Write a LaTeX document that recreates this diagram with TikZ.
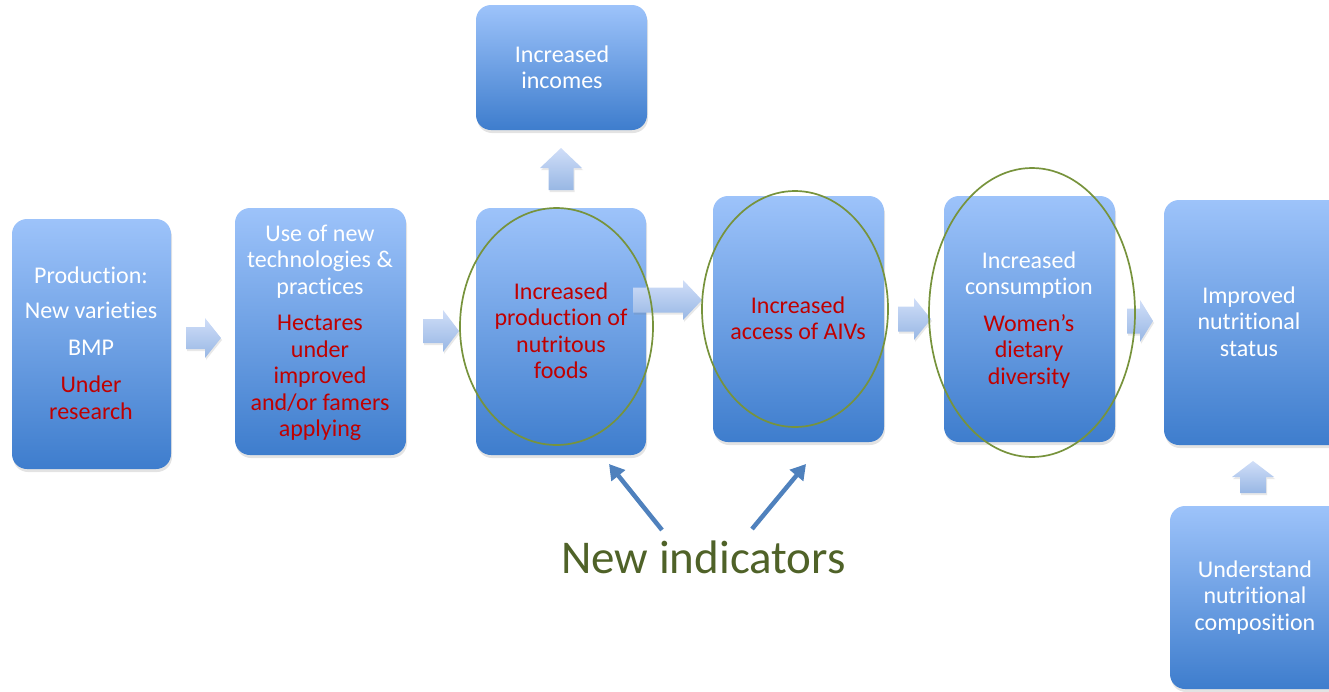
\documentclass[tikz,border=0pt]{standalone}
\usepackage{fontspec}
\setmainfont{Carlito}[Ligatures={NoCommon}]
\usetikzlibrary{arrows.meta,shadows}
\definecolor{boxtop}{RGB}{157,195,250}
\definecolor{boxbot}{RGB}{62,125,205}
\definecolor{txtred}{RGB}{192,0,0}
\definecolor{ellgreen}{RGB}{119,147,60}
\definecolor{indgreen}{RGB}{79,98,40}
\definecolor{arrblue}{RGB}{79,129,189}
\definecolor{barrtop}{RGB}{208,222,248}
\definecolor{barrbot}{RGB}{152,183,228}
\newcommand\rd[1]{\textcolor{txtred}{#1}}
\newcommand\myharr[6]{\path[barrow] (#1,#4-#5) -- (#3,#4-#5) -- (#3,#4-#6) -- (#2,#4) -- (#3,#4+#6) -- (#3,#4+#5) -- (#1,#4+#5) -- cycle;}
\newcommand\myvarr[6]{\path[barrow] (#1-#5,#4) -- (#1-#5,#3) -- (#1-#6,#3) -- (#1,#2) -- (#1+#6,#3) -- (#1+#5,#3) -- (#1+#5,#4) -- cycle;}
\begin{document}
\begin{tikzpicture}[x=1pt,y=-1pt,
  box/.style={rounded corners=15pt, top color=boxtop, bottom color=boxbot, draw=none,
    inner sep=0pt, outer sep=0pt,
    drop shadow={opacity=0.22, shadow xshift=1pt, shadow yshift=-3pt}},
  txt/.style={font=\fontsize{24}{26.5}\selectfont, text=white, inner sep=0pt, anchor=base},
  barrow/.style={top color=barrtop, bottom color=barrbot, draw=none,
    drop shadow={opacity=0.18, shadow xshift=1pt, shadow yshift=-2pt}},
  ell/.style={draw=ellgreen, line width=1.7pt},
  indarrow/.style={draw=arrblue, line width=4.5pt, -{Triangle[length=15pt,width=17pt]}}]
\useasboundingbox (0,0) rectangle (1329,691);
\clip (0,0) rectangle (1329,691);

% boxes
\node[box, minimum width=159pt, minimum height=250pt] (b1) at (91.5,344) {};
\node[box, minimum width=171pt, minimum height=247pt] (b2) at (320.5,331.5) {};
\node[box, minimum width=170pt, minimum height=247pt] (b3) at (561,331.5) {};
\node[box, minimum width=171pt, minimum height=125pt] (b0) at (561.5,67.5) {};
\node[box, minimum width=171pt, minimum height=246pt] (b4) at (798.5,319) {};
\node[box, minimum width=171pt, minimum height=246pt] (b5) at (1029.5,319) {};
\node[box, minimum width=190pt, minimum height=245pt] (b6) at (1259,322.5) {};
\node[box, minimum width=180pt, minimum height=183pt] (b7) at (1260,597.5) {};

% texts
\node[txt] (t1) at (91,283) {\begin{tabular}[t]{@{}c@{}}Production:\\[9pt] New varieties\\[10pt] BMP\\[11pt] \rd{Under}\\ \rd{research}\end{tabular}};
\node[txt] (t2) at (320,241) {\begin{tabular}[t]{@{}c@{}}Use of new\\ technologies \&\\ practices\\[10pt] \rd{Hectares}\\ \rd{under}\\ \rd{improved}\\ \rd{and/or famers}\\ \rd{applying}\end{tabular}};
\node[txt] (t3) at (561,299) {\begin{tabular}[t]{@{}c@{}}\rd{Increased}\\ \rd{production of}\\ \rd{nutritous}\\ \rd{foods}\end{tabular}};
\node[txt] (t0) at (562,62) {\begin{tabular}[t]{@{}c@{}}Increased\\ incomes\end{tabular}};
\node[txt] (t4) at (798,313) {\begin{tabular}[t]{@{}c@{}}\rd{Increased}\\ \rd{access of AIVs}\end{tabular}};
\node[txt] (t5) at (1029,268) {\begin{tabular}[t]{@{}c@{}}Increased\\ consumption\\[10pt] \rd{Women’s}\\ \rd{dietary}\\ \rd{diversity}\end{tabular}};
\node[txt] (t6) at (1249,303) {\begin{tabular}[t]{@{}c@{}}Improved\\ nutritional\\ status\end{tabular}};
\node[txt] (t7) at (1255,577) {\begin{tabular}[t]{@{}c@{}}Understand\\ nutritional\\ composition\end{tabular}};

% block arrows
\myharr{186}{221}{205}{338}{11}{20}
\myharr{423}{459}{443}{331}{12}{21}
\myharr{633}{702}{683}{300}{12.5}{20}
\myharr{898}{931}{914}{319}{12.5}{21}
\myharr{1127}{1153}{1140}{321}{12.5}{21}
\myvarr{561}{148}{168}{190}{12.5}{21}
\myvarr{1253}{461}{477}{493}{13}{21}

% ellipses
\draw[ell] (556.5,326.5) ellipse [x radius=96.5, y radius=118.5];
\draw[ell] (795,309) ellipse [x radius=93, y radius=118];
\draw[ell] (1032,312.5) ellipse [x radius=103, y radius=144.5];

% new indicators
\node[font=\fontsize{47}{55}\selectfont, text=indgreen, inner sep=0pt, anchor=base] (ni) at (703.5,573) {New indicators};
\coordinate (n1s) at (662,530);
\coordinate (n1e) at (609,464);
\coordinate (n2s) at (752,529);
\coordinate (n2e) at (806,464);
\draw[indarrow] (n1s) -- (n1e);
\draw[indarrow] (n2s) -- (n2e);
\end{tikzpicture}
\end{document}
